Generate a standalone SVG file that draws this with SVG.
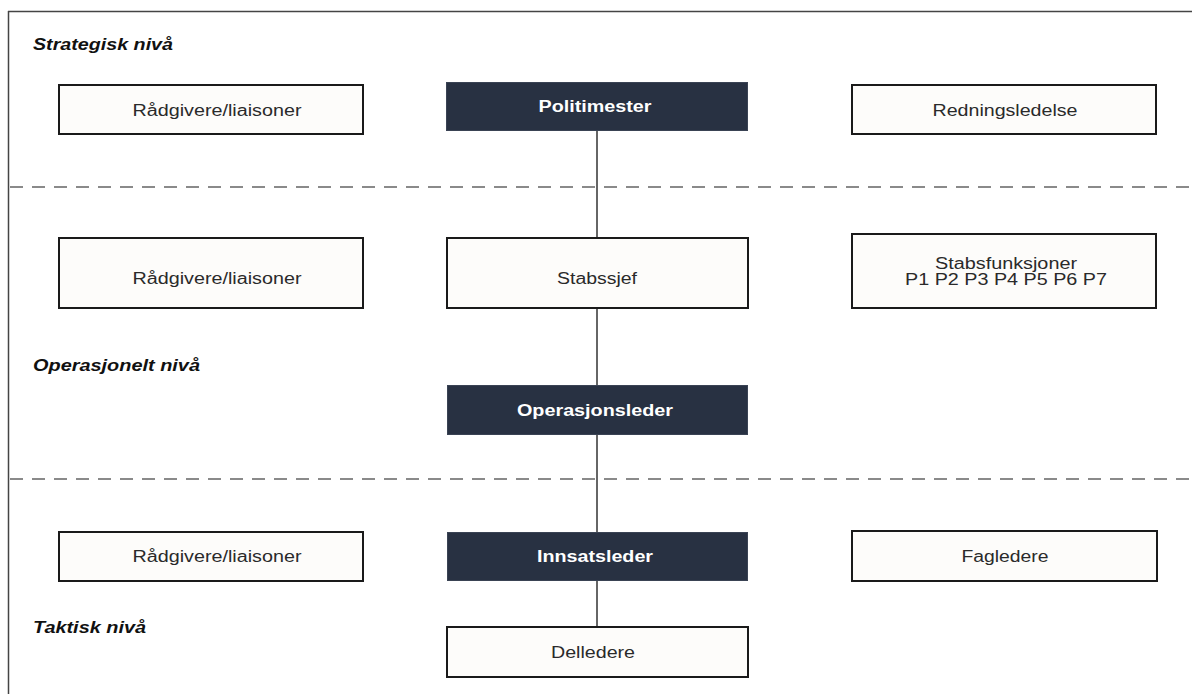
<svg xmlns="http://www.w3.org/2000/svg" width="1192" height="694" viewBox="0 0 1192 694">
<style>
.box{fill:#fdfcfa;stroke:#1a1a1a;stroke-width:2}
.dark{fill:#283142;stroke:#3a4354;stroke-width:1}
.t{font-family:"Liberation Sans",Arial,sans-serif;font-size:16px;fill:#2a2a2a;text-anchor:middle}
.tw{font-family:"Liberation Sans",Arial,sans-serif;font-size:16px;font-weight:bold;fill:#ffffff;text-anchor:middle}
.lvl{font-family:"Liberation Sans",Arial,sans-serif;font-size:17px;font-weight:bold;font-style:italic;fill:#111}
.dash{stroke:#8a8a8a;stroke-width:2;stroke-dasharray:13 9;fill:none}
.conn{stroke:#333;stroke-width:1.5;fill:none}
</style>
<rect width="1192" height="694" fill="#ffffff"/>
<g id="frame">
<line x1="8" y1="11.5" x2="1192" y2="11.5" stroke="#444" stroke-width="1.5"/>
<line x1="8.5" y1="11" x2="8.5" y2="694" stroke="#444" stroke-width="1.5"/>
</g>
<g id="separators">
<line class="dash" x1="10" y1="187" x2="1192" y2="187"/>
<line class="dash" x1="10" y1="479" x2="1192" y2="479"/>
</g>
<g id="levels">
<text class="lvl" x="33" y="50" textLength="140" lengthAdjust="spacingAndGlyphs">Strategisk nivå</text>
<text class="lvl" x="33" y="371" textLength="167" lengthAdjust="spacingAndGlyphs">Operasjonelt nivå</text>
<text class="lvl" x="33" y="633" textLength="113" lengthAdjust="spacingAndGlyphs">Taktisk nivå</text>
</g>
<g id="connectors">
<line class="conn" x1="597" y1="131" x2="597" y2="627"/>
</g>
<g id="raadgivere1">
<rect class="box" x="59" y="85" width="304" height="49"/>
<text class="t" x="217" y="116" textLength="169" lengthAdjust="spacingAndGlyphs">Rådgivere/liaisoner</text>
</g>
<g id="politimester">
<rect class="dark" x="446.5" y="82.5" width="301" height="48"/>
<text class="tw" x="595" y="112" textLength="113" lengthAdjust="spacingAndGlyphs">Politimester</text>
</g>
<g id="redningsledelse">
<rect class="box" x="852" y="85" width="304" height="49"/>
<text class="t" x="1005" y="116" textLength="145" lengthAdjust="spacingAndGlyphs">Redningsledelse</text>
</g>
<g id="raadgivere2">
<rect class="box" x="59" y="238" width="304" height="70"/>
<text class="t" x="217" y="284" textLength="169" lengthAdjust="spacingAndGlyphs">Rådgivere/liaisoner</text>
</g>
<g id="stabssjef">
<rect class="box" x="447" y="238" width="301" height="70"/>
<text class="t" x="597" y="284" textLength="80" lengthAdjust="spacingAndGlyphs">Stabssjef</text>
</g>
<g id="stabsfunksjoner">
<rect class="box" x="852" y="234" width="304" height="74"/>
<text class="t" x="1006" y="269" textLength="142" lengthAdjust="spacingAndGlyphs">Stabsfunksjoner</text>
<text class="t" x="1006" y="285" textLength="202" lengthAdjust="spacingAndGlyphs">P1 P2 P3 P4 P5 P6 P7</text>
</g>
<g id="operasjonsleder">
<rect class="dark" x="447.5" y="385.5" width="300" height="49"/>
<text class="tw" x="595" y="416" textLength="156" lengthAdjust="spacingAndGlyphs">Operasjonsleder</text>
</g>
<g id="raadgivere3">
<rect class="box" x="59" y="532" width="304" height="49"/>
<text class="t" x="217" y="562" textLength="169" lengthAdjust="spacingAndGlyphs">Rådgivere/liaisoner</text>
</g>
<g id="innsatsleder">
<rect class="dark" x="447.5" y="532.5" width="300" height="48"/>
<text class="tw" x="595" y="562" textLength="116" lengthAdjust="spacingAndGlyphs">Innsatsleder</text>
</g>
<g id="fagledere">
<rect class="box" x="852" y="531" width="305" height="50"/>
<text class="t" x="1005" y="562" textLength="87" lengthAdjust="spacingAndGlyphs">Fagledere</text>
</g>
<g id="delledere">
<rect class="box" x="447" y="627" width="301" height="50"/>
<text class="t" x="593" y="658" textLength="84" lengthAdjust="spacingAndGlyphs">Delledere</text>
</g>
</svg>
